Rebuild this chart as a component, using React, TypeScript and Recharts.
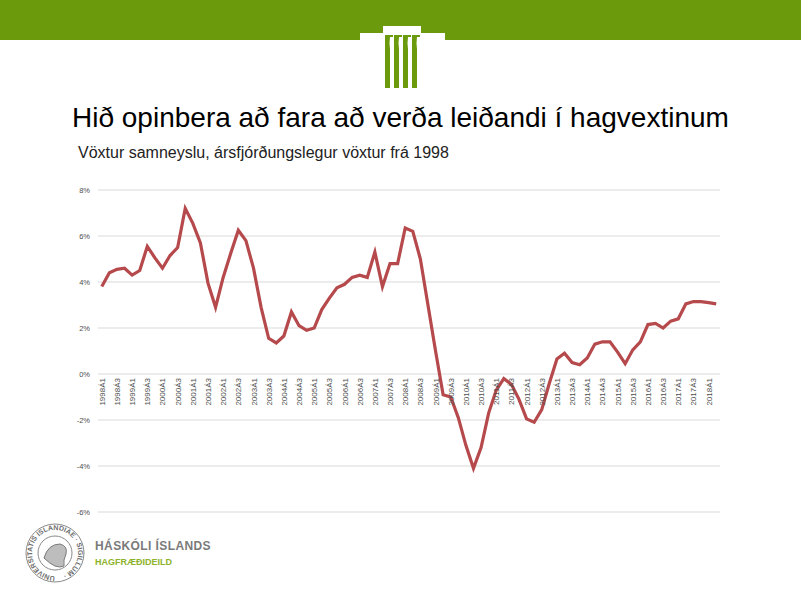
import { LineChart, Line, XAxis, YAxis, CartesianGrid } from "recharts";

// Ársfjórðungar 1998Á1 - 2018Á2
const quarters = [
  "1998Á1", "1998Á2", "1998Á3", "1998Á4",
  "1999Á1", "1999Á2", "1999Á3", "1999Á4",
  "2000Á1", "2000Á2", "2000Á3", "2000Á4",
  "2001Á1", "2001Á2", "2001Á3", "2001Á4",
  "2002Á1", "2002Á2", "2002Á3", "2002Á4",
  "2003Á1", "2003Á2", "2003Á3", "2003Á4",
  "2004Á1", "2004Á2", "2004Á3", "2004Á4",
  "2005Á1", "2005Á2", "2005Á3", "2005Á4",
  "2006Á1", "2006Á2", "2006Á3", "2006Á4",
  "2007Á1", "2007Á2", "2007Á3", "2007Á4",
  "2008Á1", "2008Á2", "2008Á3", "2008Á4",
  "2009Á1", "2009Á2", "2009Á3", "2009Á4",
  "2010Á1", "2010Á2", "2010Á3", "2010Á4",
  "2011Á1", "2011Á2", "2011Á3", "2011Á4",
  "2012Á1", "2012Á2", "2012Á3", "2012Á4",
  "2013Á1", "2013Á2", "2013Á3", "2013Á4",
  "2014Á1", "2014Á2", "2014Á3", "2014Á4",
  "2015Á1", "2015Á2", "2015Á3", "2015Á4",
  "2016Á1", "2016Á2", "2016Á3", "2016Á4",
  "2017Á1", "2017Á2", "2017Á3", "2017Á4",
  "2018Á1", "2018Á2",
];

// Vöxtur samneyslu, %
const growth = [
  3.8, 4.4, 4.55, 4.6,
  4.3, 4.5, 5.55, 5.05,
  4.6, 5.15, 5.5, 7.2,
  6.55, 5.7, 3.95, 2.9,
  4.2, 5.25, 6.25, 5.8,
  4.6, 2.9, 1.55, 1.35,
  1.65, 2.7, 2.1, 1.9,
  2.0, 2.8, 3.3, 3.75,
  3.9, 4.2, 4.3, 4.2,
  5.3, 3.8, 4.8, 4.8,
  6.35, 6.2, 5.0, 3.0,
  1.0, -0.9, -1.0, -1.9,
  -3.1, -4.1, -3.2, -1.7,
  -0.7, -0.2, -0.45, -1.1,
  -1.95, -2.1, -1.55, -0.4,
  0.65, 0.9, 0.5, 0.4,
  0.7, 1.3, 1.4, 1.4,
  0.95, 0.45, 1.05, 1.4,
  2.15, 2.2, 2.0, 2.3,
  2.4, 3.05, 3.15, 3.15,
  3.1, 3.05,
];

const yTicks = [-6, -4, -2, 0, 2, 4, 6, 8];

const data = quarters.map((q, i) => ({ q, value: growth[i] }));

const W = 801;
const H = 600;
const margin = { top: 190, right: 81, bottom: 87, left: 68 };
const xAxisH = 1;
const yMin = -6;
const yMax = 8;
const plotH = H - margin.top - margin.bottom - xAxisH;
const zeroY = margin.top + (plotH * yMax) / (yMax - yMin);

const FONT = "'Liberation Sans', Arial, sans-serif";
const GREEN = "#6b9a0c";

function QuarterTick({ x, payload }: any) {
  return (
    <text
      transform={`translate(${x + 3},${zeroY + 4}) rotate(-90)`}
      textAnchor="end"
      fontSize={8}
      fill="#4d4d4d"
      fontFamily={FONT}
    >
      {payload.value}
    </text>
  );
}

function Header() {
  return (
    <svg width={W} height={92} style={{ position: "absolute", left: 0, top: 0 }}>
      <rect x={0} y={0} width={W} height={40} fill={GREEN} />
      <rect x={360} y={33} width={85} height={7} fill="#fff" />
      <rect x={383} y={26} width={38} height={8} fill="#fff" />
      {[0, 1, 2, 3].map((c) => (
        <path
          key={c}
          d={`M${385 + c * 9},35 h8 v2 h-3 q-1,6 0,12 v39 h-5 z`}
          fill={GREEN}
        />
      ))}
    </svg>
  );
}

function Seal() {
  return (
    <svg width={230} height={75} style={{ position: "absolute", left: 20, top: 518 }}>
      <defs>
        <path id="sealRing" d="M35,58 a23,23 0 1,1 0.1,0" />
      </defs>
      <circle cx={35} cy={35} r={29} fill="none" stroke="#8a8a8a" strokeWidth={1} />
      <circle cx={35} cy={35} r={17} fill="none" stroke="#8a8a8a" strokeWidth={1} />
      <text fontSize={7} fill="#6d6d6d" fontFamily={FONT} fontWeight="bold">
        <textPath href="#sealRing">UNIVERSITATIS ISLANDIAE · SIGILLUM ·</textPath>
      </text>
      <path d="M24,40 q4,-14 16,-14 q8,2 6,10 q-3,6 -2,12 q-8,4 -20,-8 z" fill="#bdbdbd" stroke="#7a7a7a" />
      <text x={75} y={32} fontSize={12} fontWeight="bold" fill="#7a7a7a" fontFamily={FONT} letterSpacing={0.4}>
        HÁSKÓLI ÍSLANDS
      </text>
      <text x={75} y={47} fontSize={9} fontWeight="bold" fill="#8db32b" fontFamily={FONT}>
        HAGFRÆÐIDEILD
      </text>
    </svg>
  );
}

export default function App() {
  return (
    <div style={{ position: "absolute", left: 0, top: 0, width: W, height: H, background: "#fff", fontFamily: FONT }}>
      <Header />
      <div style={{ position: "absolute", left: 72, top: 102, fontSize: 28, color: "#000", whiteSpace: "nowrap" }}>
        Hið opinbera að fara að verða leiðandi í hagvextinum
      </div>
      <div style={{ position: "absolute", left: 78, top: 144, fontSize: 16, color: "#222", whiteSpace: "nowrap" }}>
        Vöxtur samneyslu, ársfjórðungslegur vöxtur frá 1998
      </div>
      <div style={{ position: "absolute", left: 0, top: 0 }}>
        <LineChart width={W} height={H} data={data} margin={margin}>
          <CartesianGrid vertical={false} stroke="#d9d9d9" strokeWidth={1} />
          <XAxis
            dataKey="q"
            scale="band"
            interval={1}
            axisLine={false}
            tickLine={false}
            height={xAxisH}
            tick={<QuarterTick />}
          />
          <YAxis
            domain={[yMin, yMax]}
            ticks={yTicks}
            width={30}
            axisLine={false}
            tickLine={false}
            tickFormatter={(v: number) => `${v}%`}
            tick={{ fontSize: 7.5, fill: "#4d4d4d", fontFamily: FONT }}
          />
          <Line
            type="linear"
            dataKey="value"
            stroke="#b5494c"
            strokeWidth={3.2}
            dot={false}
            isAnimationActive={false}
          />
        </LineChart>
      </div>
      <Seal />
    </div>
  );
}
